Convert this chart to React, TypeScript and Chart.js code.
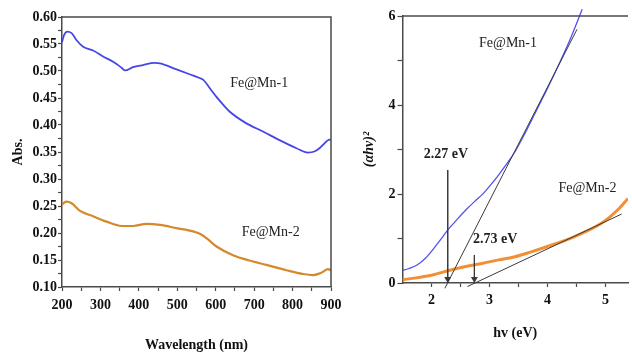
import React, { useEffect, useRef } from "react";
import { Chart, registerables } from "chart.js";

Chart.register(...registerables);

// ---------- Left panel: absorbance spectra ----------
const absWavelength1 = [200, 205, 214, 225, 238, 255, 281, 307, 333, 355, 364, 385, 411, 440, 455, 498, 532, 558, 567, 590, 602, 636, 680, 723, 766, 810, 840, 857, 870, 879, 896, 900];
const absValues1 = [0.553, 0.566, 0.573, 0.570, 0.557, 0.545, 0.538, 0.527, 0.517, 0.506, 0.501, 0.507, 0.511, 0.515, 0.514, 0.503, 0.494, 0.487, 0.484, 0.463, 0.452, 0.425, 0.403, 0.388, 0.372, 0.357, 0.349, 0.351, 0.357, 0.363, 0.373, 0.372];

const absWavelength2 = [200, 205, 212, 225, 247, 281, 316, 355, 385, 420, 455, 498, 541, 560, 580, 602, 645, 688, 732, 784, 827, 853, 870, 879, 892, 900];
const absValues2 = [0.252, 0.256, 0.258, 0.255, 0.241, 0.231, 0.221, 0.213, 0.213, 0.217, 0.215, 0.209, 0.203, 0.198, 0.188, 0.175, 0.159, 0.149, 0.141, 0.131, 0.124, 0.122, 0.125, 0.128, 0.133, 0.131];

const absXMajor = [200, 300, 400, 500, 600, 700, 800, 900];
const absYMajor = [0.1, 0.15, 0.2, 0.25, 0.3, 0.35, 0.4, 0.45, 0.5, 0.55, 0.6];
const absSeriesNames = ["Fe@Mn-1", "Fe@Mn-2"];
const absLabelX = [713, 743];
const absLabelY = [0.478, 0.202];

// ---------- Right panel: Tauc plot ----------
const taucHv1 = [1.5, 1.6, 1.7, 1.8, 1.9, 2.0, 2.1, 2.2, 2.3, 2.45, 2.6, 2.75, 2.87, 3.0, 3.16, 3.3, 3.44, 3.6, 3.8, 4.0, 4.2, 4.4, 4.6];
const taucVal1 = [0.28, 0.32, 0.37, 0.45, 0.56, 0.71, 0.88, 1.05, 1.22, 1.44, 1.65, 1.84, 1.98, 2.17, 2.43, 2.68, 2.95, 3.33, 3.85, 4.37, 4.92, 5.5, 6.15];

const taucHv2 = [1.5, 2.02, 2.3, 2.59, 2.87, 3.16, 3.44, 3.72, 4.0, 4.48, 4.93, 5.21, 5.39];
const taucVal2 = [0.07, 0.18, 0.28, 0.37, 0.44, 0.52, 0.59, 0.7, 0.82, 1.05, 1.34, 1.64, 1.9];

const tangent1Hv = [2.23, 4.51];
const tangent1Val = [-0.12, 5.7];
const tangent2Hv = [2.62, 5.28];
const tangent2Val = [-0.08, 1.55];
const gapArrow1Hv = [2.28, 2.28];
const gapArrow1Val = [2.54, 0.09];
const gapArrow2Hv = [2.74, 2.74];
const gapArrow2Val = [0.63, 0.09];

const taucXMajor = [2, 3, 4, 5];
const taucYMajor = [0, 2, 4, 6];
const taucTexts = ["Fe@Mn-1", "Fe@Mn-2", "2.27 eV", "2.73 eV"];
const taucTextX = [3.32, 4.69, 2.25, 3.1];
const taucTextY = [5.39, 2.13, 2.9, 0.99];
const taucTextBold = [false, false, true, true];

// ---------- helpers ----------
const SERIF = '"Liberation Serif", "Times New Roman", serif';
const AXIS_COLOR = "#4a4a4a";

const pts = (xs: number[], ys: number[]) => xs.map((x, i) => ({ x, y: ys[i] }));
const mids = (arr: number[]) => arr.slice(1).map((v, i) => (v + arr[i]) / 2);
const isMajor = (arr: number[], v: number) => arr.some((m) => Math.abs(m - v) < 1e-9);

function axis(
  major: number[],
  min: number,
  max: number,
  fmt: (v: number) => string,
  title: string,
  titleFont: any,
  titlePadding: any,
  fitSize: number,
  horizontal: boolean,
  tickPad: number,
  tickLen: number
) {
  const all = [...major, ...mids(major)].sort((a, b) => a - b);
  return {
    type: "linear",
    min,
    max,
    afterBuildTicks: (s: any) => {
      s.ticks = all.map((v) => ({ value: v }));
    },
    afterFit: (s: any) => {
      if (horizontal) s.height = fitSize;
      else s.width = fitSize;
      s.paddingLeft = 0;
      s.paddingRight = 0;
      s.paddingTop = 0;
      s.paddingBottom = 0;
    },
    grid: {
      display: true,
      drawOnChartArea: false,
      drawTicks: true,
      tickLength: tickLen,
      tickColor: AXIS_COLOR,
      tickWidth: 1.2,
    },
    border: { display: true, color: AXIS_COLOR, width: 1.5 },
    ticks: {
      autoSkip: false,
      maxRotation: 0,
      padding: tickPad,
      color: "#111",
      font: { family: SERIF, size: 14, weight: "bold" },
      callback: (v: any) => (isMajor(major, Number(v)) ? fmt(Number(v)) : ""),
    },
    title: {
      display: true,
      text: title,
      color: "#111",
      font: titleFont,
      padding: titlePadding,
    },
  };
}

function framePlugin(drawRight: boolean) {
  return {
    id: "frame",
    afterDatasetsDraw(chart: any) {
      const { ctx, chartArea } = chart;
      ctx.save();
      ctx.strokeStyle = AXIS_COLOR;
      ctx.lineWidth = 1.5;
      ctx.beginPath();
      ctx.moveTo(chartArea.left, chartArea.top);
      ctx.lineTo(chartArea.right, chartArea.top);
      if (drawRight) ctx.lineTo(chartArea.right, chartArea.bottom);
      ctx.stroke();
      ctx.restore();
    },
  };
}

function textPlugin(texts: string[], xs: number[], ys: number[], bold: boolean[]) {
  return {
    id: "texts",
    afterDatasetsDraw(chart: any) {
      const { ctx } = chart;
      const sx = chart.scales.x;
      const sy = chart.scales.y;
      ctx.save();
      ctx.textAlign = "center";
      ctx.textBaseline = "middle";
      ctx.fillStyle = "#222";
      texts.forEach((t, i) => {
        ctx.font = `${bold[i] ? "bold " : ""}14px ${SERIF}`;
        ctx.fillText(t, sx.getPixelForValue(xs[i]), sy.getPixelForValue(ys[i]));
      });
      ctx.restore();
    },
  };
}

export default function App() {
  const leftRef = useRef<HTMLCanvasElement>(null);
  const rightRef = useRef<HTMLCanvasElement>(null);

  useEffect(() => {
    const left = new Chart(leftRef.current as HTMLCanvasElement, {
      type: "line",
      data: {
        datasets: [
          {
            label: absSeriesNames[0],
            data: pts(absWavelength1, absValues1),
            borderColor: "#4646e8",
            borderWidth: 1.8,
            pointRadius: 0,
            cubicInterpolationMode: "monotone",
          },
          {
            label: absSeriesNames[1],
            data: pts(absWavelength2, absValues2),
            borderColor: "#d4892c",
            borderWidth: 2.2,
            pointRadius: 0,
            cubicInterpolationMode: "monotone",
          },
        ],
      },
      options: {
        animation: false,
        responsive: false,
        maintainAspectRatio: false,
        devicePixelRatio: 1,
        parsing: false,
        layout: { padding: { left: 0, right: 29, top: 17, bottom: 0 } },
        plugins: { legend: { display: false }, tooltip: { enabled: false } },
        scales: {
          x: axis(
            absXMajor, 200, 900, (v) => String(v), "Wavelength (nm)",
            { family: SERIF, size: 14, weight: "bold" },
            { top: 0, bottom: 2 }, 69, true, 6, 4
          ),
          y: axis(
            absYMajor, 0.1, 0.6, (v) => v.toFixed(2), "Abs.",
            { family: SERIF, size: 14, weight: "bold" },
            { top: 10, bottom: 0 }, 62, false, 1, 4
          ),
        },
      } as any,
      plugins: [
        framePlugin(true),
        textPlugin(absSeriesNames, absLabelX, absLabelY, [false, false]),
      ],
    });

    const lineStyle = {
      borderColor: "#3a3a3a",
      borderWidth: 1,
      pointRadius: 0,
      clip: false,
    };
    const arrowStyle = {
      borderColor: "#3a3a3a",
      borderWidth: 1,
      pointRadius: [0, 4],
      pointStyle: "triangle",
      rotation: 180,
      pointBackgroundColor: "#3a3a3a",
      pointBorderColor: "#3a3a3a",
      pointBorderWidth: 0,
      clip: false,
    };

    const right = new Chart(rightRef.current as HTMLCanvasElement, {
      type: "line",
      data: {
        datasets: [
          { label: "tangent-1", data: pts(tangent1Hv, tangent1Val), ...lineStyle },
          { label: "tangent-2", data: pts(tangent2Hv, tangent2Val), ...lineStyle },
          { label: "gap-1", data: pts(gapArrow1Hv, gapArrow1Val), ...arrowStyle },
          { label: "gap-2", data: pts(gapArrow2Hv, gapArrow2Val), ...arrowStyle },
          {
            label: "Fe@Mn-1",
            data: pts(taucHv1, taucVal1),
            borderColor: "#5252f0",
            borderWidth: 1.3,
            pointRadius: 0,
            cubicInterpolationMode: "monotone",
            clip: { left: 0, right: 0, top: 10, bottom: 0 },
          },
          {
            label: "Fe@Mn-2",
            data: pts(taucHv2, taucVal2),
            borderColor: "#f28f36",
            borderWidth: 3,
            pointRadius: 0,
            cubicInterpolationMode: "monotone",
          },
        ],
      },
      options: {
        animation: false,
        responsive: false,
        maintainAspectRatio: false,
        devicePixelRatio: 1,
        parsing: false,
        layout: { padding: { left: 0, right: 0, top: 16, bottom: 0 } },
        plugins: { legend: { display: false }, tooltip: { enabled: false } },
        scales: {
          x: axis(
            taucXMajor, 1.5, 5.39, (v) => String(v), "hv (eV)",
            { family: SERIF, size: 14, weight: "bold" },
            { top: 0, bottom: 14 }, 73, true, 5, 4
          ),
          y: axis(
            taucYMajor, 0, 6, (v) => String(v), "(αhν)²",
            { family: SERIF, size: 14, weight: "bold", style: "italic" },
            { top: 21, bottom: 0 }, 62.5, false, 2, 5
          ),
        },
      } as any,
      plugins: [
        framePlugin(false),
        textPlugin(taucTexts, taucTextX, taucTextY, taucTextBold),
      ],
    });

    return () => {
      left.destroy();
      right.destroy();
    };
  }, []);

  return (
    <div style={{ position: "absolute", left: 0, top: 0, width: 632, height: 356, background: "#fff", overflow: "hidden" }}>
      <canvas
        ref={leftRef}
        width={360}
        height={356}
        style={{ position: "absolute", left: 0, top: 0, width: 360, height: 356 }}
      />
      <canvas
        ref={rightRef}
        width={292}
        height={356}
        style={{ position: "absolute", left: 340, top: 0, width: 292, height: 356 }}
      />
    </div>
  );
}
